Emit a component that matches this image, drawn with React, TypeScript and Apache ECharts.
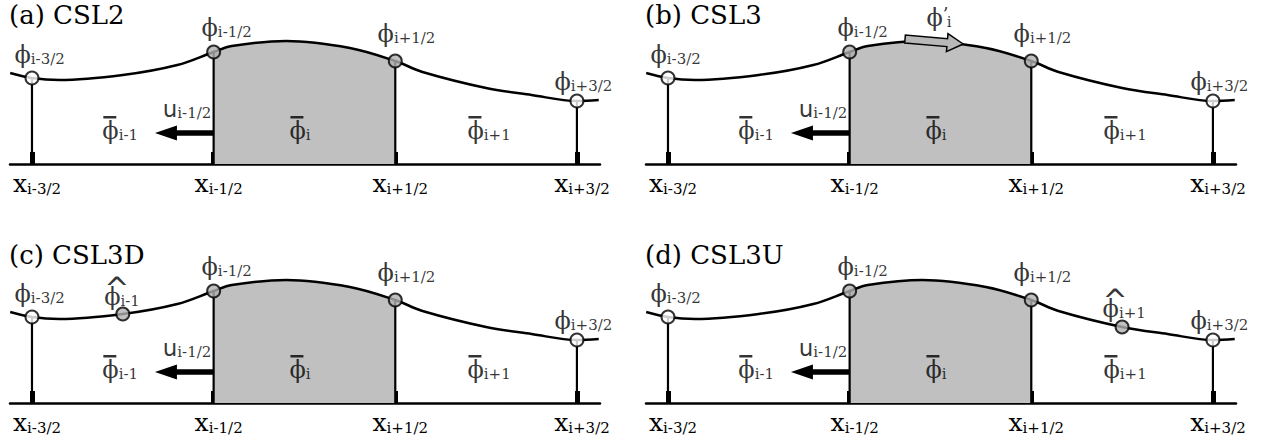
import React, { useEffect, useRef } from 'react';
import * as echarts from 'echarts';

// ---------- data ----------
const panelTitles = ['(a) CSL2', '(b) CSL3', '(c) CSL3D', '(d) CSL3U'];
const faceX = [0, 1, 2, 3];
const faceSubs = ['i-3/2', 'i-1/2', 'i+1/2', 'i+3/2'];
const faceIsShaded = [false, true, true, false];
const faceLabelX = [-0.094, 0.936, 1.905, 2.879];
const faceLabelH = [97, 124, 118, 70];
const curveX = [-0.12, 0, 0.15, 0.5, 0.8, 1, 1.1, 1.4, 1.75, 2, 2.15, 2.5, 2.75, 3, 3.12];
const curveH = [91, 86, 84, 89, 99, 112, 118, 123, 116, 103, 92, 76, 69, 63, 64];
const cellLabelX = [0.39, 1.42, 2.4];
const cellSubs = ['i-1', 'i', 'i+1'];
const cellLabelH = [21, 21, 21];
const uArrowX = [0.677, 0.798, 1.0]; // tip, head base, tail
const uArrowH = 31;
const uLabelX = 0.99;
const uLabelH = 43;
const hatX = [0.5, 2.5];
const hatSubs = ['i-1', 'i+1'];
const hatLabelX = [0.4, 2.395];
const hatLabelH = [94, 82];
const slopeArrowX = [1.305, 1.625];
const slopeArrowH = [125, 120];
const slopeLabelX = 1.426;
const slopeLabelH = 134;

// ---------- layout / style ----------
const panelLeft = [10, 646, 10, 646];
const panelBase = [164, 164, 403, 403];
const panelExtra = ['none', 'slope', 'hatL', 'hatR'];
const titleLeft = [9, 645, 9, 645];
const titleTop = [2, 2, 242, 242];
const H = 150;
const SMOOTH = 0.35;
const SERIF = 'DejaVu Serif';
const SANS = 'DejaVu Sans';
const SHADE = '#c0c0c0';
const NODE_GRAY = '#b0b0b0';

const rich: any = {
  p: { fontFamily: SERIF, fontSize: 24, color: '#000', verticalAlign: 'bottom' },
  s: { fontFamily: SERIF, fontSize: 15, color: '#000', verticalAlign: 'bottom' },
  x: { fontFamily: SERIF, fontSize: 25, color: '#000', verticalAlign: 'bottom' },
  u: { fontFamily: SANS, fontSize: 23, color: '#000', verticalAlign: 'bottom' },
  sp: { width: 1, fontSize: 2, lineHeight: 3 },
  bar: { width: 13, height: 2.5, backgroundColor: '#000', fontSize: 2, lineHeight: 3, verticalAlign: 'bottom' },
  hat: { fontFamily: SANS, fontSize: 30, height: 8, lineHeight: 8, width: 0.01, align: 'left', verticalAlign: 'top', color: '#000' },
  pr: { fontFamily: SERIF, fontSize: 18, color: '#000', verticalAlign: 'top', width: 4 },
};

const hAt = (x: number) => curveH[curveX.indexOf(x)];

function arrowPolygon(p0: number[], p1: number[], shaftHalf: number, headHalf: number, headLen: number) {
  const dx = p1[0] - p0[0];
  const dy = p1[1] - p0[1];
  const L = Math.hypot(dx, dy) || 1;
  const ux = dx / L, uy = dy / L;
  const nx = -uy, ny = ux;
  const hb = [p1[0] - ux * headLen, p1[1] - uy * headLen];
  return [
    [p0[0] + nx * shaftHalf, p0[1] + ny * shaftHalf],
    [hb[0] + nx * shaftHalf, hb[1] + ny * shaftHalf],
    [hb[0] + nx * headHalf, hb[1] + ny * headHalf],
    [p1[0], p1[1]],
    [hb[0] - nx * headHalf, hb[1] - ny * headHalf],
    [hb[0] - nx * shaftHalf, hb[1] - ny * shaftHalf],
    [p0[0] - nx * shaftHalf, p0[1] - ny * shaftHalf],
  ];
}

function labelItem(x: number, h: number, text: string, align = 'left', vAlign = 'bottom') {
  return {
    value: [x, h],
    label: { formatter: text, align, verticalAlign: vAlign },
  };
}

function buildOption() {
  const grid: any[] = [], xAxis: any[] = [], yAxis: any[] = [], series: any[] = [], title: any[] = [];
  const areaIdx: number[] = [];
  for (let i = 0; i < 4; i++) {
    grid.push({ left: panelLeft[i], top: panelBase[i] - H, width: 590, height: H });
    xAxis.push({
      gridIndex: i, type: 'value', min: -0.121, max: 3.127,
      splitLine: { show: false },
      axisLine: { show: true, onZero: false, lineStyle: { color: '#000', width: 2.5 } },
      axisTick: { show: true, inside: true, length: 12, customValues: faceX, lineStyle: { color: '#000', width: 5 } },
      axisLabel: {
        show: true, customValues: faceX, margin: 7, padding: [0, 0, 0, 10],
        formatter: (v: number) => `{x|x}{s|${faceSubs[faceX.indexOf(v)]}}`,
        rich,
      },
    });
    yAxis.push({ gridIndex: i, type: 'value', min: 0, max: H, show: false });
    title.push({
      text: panelTitles[i], left: titleLeft[i], top: titleTop[i], padding: 0,
      textStyle: { fontFamily: SERIF, fontSize: 26, fontWeight: 'normal', color: '#000' },
    });
    const curveData = curveX.map((x, k) => [x, curveH[k]]);
    areaIdx.push(series.length);
    series.push({
      type: 'line', xAxisIndex: i, yAxisIndex: i, data: curveData, smooth: SMOOTH,
      symbol: 'none', lineStyle: { width: 0 }, areaStyle: { opacity: 1 }, z: 1, silent: true,
    });
    series.push({
      type: 'custom', xAxisIndex: i, yAxisIndex: i, z: 2, silent: true,
      data: faceX.map((x) => [x, hAt(x)]),
      renderItem: (params: any, api: any) => {
        const top = api.coord([api.value(0), api.value(1)]);
        const bot = api.coord([api.value(0), 0]);
        return { type: 'line', shape: { x1: bot[0], y1: bot[1], x2: top[0], y2: top[1] }, style: { stroke: '#000', lineWidth: 2.2 } };
      },
    });
    series.push({
      type: 'line', xAxisIndex: i, yAxisIndex: i, data: curveData, smooth: SMOOTH,
      symbol: 'none', lineStyle: { color: '#000', width: 2.5 }, z: 3, silent: true,
    });
    series.push({
      type: 'custom', xAxisIndex: i, yAxisIndex: i, z: 4, silent: true,
      data: [[uArrowX[0], uArrowX[1], uArrowX[2], uArrowH]],
      renderItem: (params: any, api: any) => {
        const tip = api.coord([api.value(0), api.value(3)]);
        const hb = api.coord([api.value(1), api.value(3)]);
        const tail = api.coord([api.value(2), api.value(3)]);
        const headLen = Math.abs(hb[0] - tip[0]);
        return { type: 'polygon', shape: { points: arrowPolygon(tail, tip, 2.8, 7.5, headLen) }, style: { fill: '#000' } };
      },
    });
    if (panelExtra[i] === 'slope') {
      series.push({
        type: 'custom', xAxisIndex: i, yAxisIndex: i, z: 6, silent: true,
        data: [[slopeArrowX[0], slopeArrowH[0], slopeArrowX[1], slopeArrowH[1]]],
        renderItem: (params: any, api: any) => {
          const p0 = api.coord([api.value(0), api.value(1)]);
          const p1 = api.coord([api.value(2), api.value(3)]);
          return { type: 'polygon', shape: { points: arrowPolygon(p0, p1, 4, 9, 16) }, style: { fill: '#b8b8b8', stroke: '#000', lineWidth: 1.5 } };
        },
      });
    }
    const nodes: any[] = faceX.map((x, k) => ({ value: [x, hAt(x)], itemStyle: { color: faceIsShaded[k] ? NODE_GRAY : '#fff' } }));
    if (panelExtra[i] === 'hatL') nodes.push({ value: [hatX[0], hAt(hatX[0])], itemStyle: { color: NODE_GRAY } });
    if (panelExtra[i] === 'hatR') nodes.push({ value: [hatX[1], hAt(hatX[1])], itemStyle: { color: NODE_GRAY } });
    series.push({
      type: 'scatter', xAxisIndex: i, yAxisIndex: i, z: 5, silent: true, clip: false,
      symbolSize: 13, itemStyle: { borderColor: '#000', borderWidth: 2 }, data: nodes,
    });
    const labels: any[] = [];
    faceX.forEach((x, k) => labels.push(labelItem(faceLabelX[k], faceLabelH[k], `{p|ϕ}{s|${faceSubs[k]}}`)));
    cellSubs.forEach((s, k) => labels.push(labelItem(cellLabelX[k], cellLabelH[k], `{sp| }{bar| }\n{p|ϕ}{s|${s}}`)));
    labels.push(labelItem(uLabelX, uLabelH, `{u|u}{s|i-1/2}`, 'right'));
    if (panelExtra[i] === 'slope') labels.push(labelItem(slopeLabelX, slopeLabelH, `{p|ϕ}{pr|’}{s|i}`));
    if (panelExtra[i] === 'hatL') labels.push(labelItem(hatLabelX[0], hatLabelH[0], `{hat|^}{p|ϕ}{s|${hatSubs[0]}}`));
    if (panelExtra[i] === 'hatR') labels.push(labelItem(hatLabelX[1], hatLabelH[1], `{hat|^}{p|ϕ}{s|${hatSubs[1]}}`));
    series.push({
      type: 'scatter', xAxisIndex: i, yAxisIndex: i, z: 10, silent: true, clip: false,
      symbolSize: 1, itemStyle: { color: 'rgba(0,0,0,0)' },
      label: { show: true, position: [0, 0], color: '#000', fontFamily: SERIF, rich },
      data: labels,
    });
  }
  return {
    animation: false,
    backgroundColor: '#fff',
    textStyle: { fontFamily: SERIF },
    title, grid, xAxis, yAxis, series,
    visualMap: [{
      type: 'piecewise', show: false, dimension: 0, seriesIndex: areaIdx,
      pieces: [{ gte: faceX[1], lte: faceX[2], color: SHADE }],
      outOfRange: { color: 'rgba(255,255,255,0)' },
    }],
  };
}

export default function App() {
  const ref = useRef<HTMLDivElement>(null);
  useEffect(() => {
    if (!ref.current) return;
    const chart = echarts.init(ref.current, undefined, { renderer: 'svg' });
    chart.setOption(buildOption() as any);
    return () => chart.dispose();
  }, []);
  return <div ref={ref} style={{ position: 'absolute', left: 0, top: 0, width: 1265, height: 442 }} />;
}
